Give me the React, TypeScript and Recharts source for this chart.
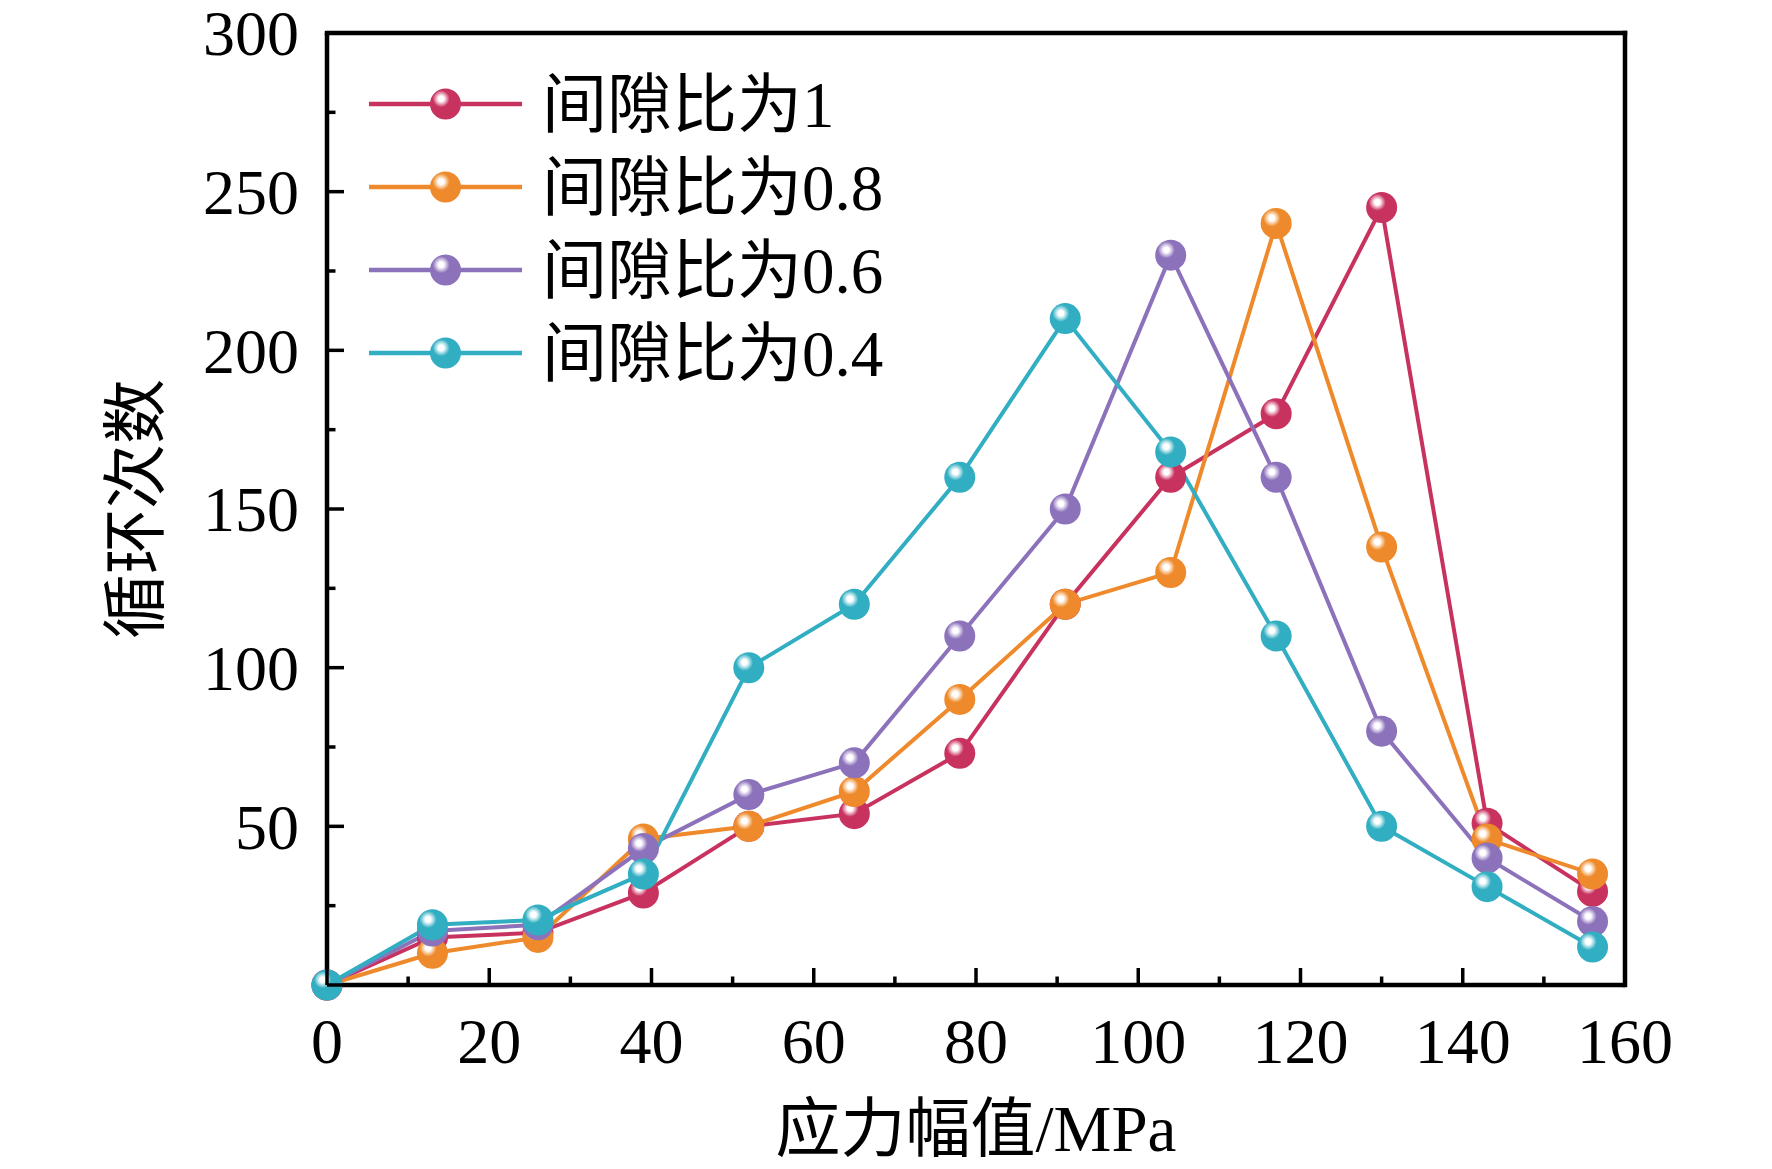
import React from 'react';
import { LineChart, Line, XAxis, YAxis, ReferenceLine, Legend, Label } from 'recharts';

const stressX = [0, 13, 26, 39, 52, 65, 78, 91, 104, 117, 130, 143, 156];
const ratio1 = [0, 15, 16.5, 29, 50, 54, 73, 120, 160, 180, 245, 51, 29.5];
const ratio08 = [0, 10, 15, 46, 50, 61, 90, 120, 130, 240, 138, 46, 35];
const ratio06 = [0, 17, 19, 43, 60, 70, 110, 150, 230, 160, 80, 40, 20];
const ratio04 = [0, 19, 20.5, 35, 100, 120, 160, 210, 168, 110, 50, 31, 12];

const xTicks = [0, 10, 20, 30, 40, 50, 60, 70, 80, 90, 100, 110, 120, 130, 140, 150, 160];
const yTicks = [0, 25, 50, 75, 100, 125, 150, 175, 200, 225, 250, 275, 300];

const seriesNames = ['间隙比为1', '间隙比为0.8', '间隙比为0.6', '间隙比为0.4'];
const seriesKeys = ['r1', 'r08', 'r06', 'r04'];
const seriesColors = ['#C8325F', '#EE8A2B', '#8C72BA', '#32AEC2'];
const seriesLight = ['#E9A3B8', '#F8CB9E', '#CDBFE2', '#A4DCE5'];
const seriesValues = [ratio1, ratio08, ratio06, ratio04];

const xTitle = '应力幅值/MPa';
const yTitle = '循环次数';

const data = stressX.map((x, i) => {
  const row: Record<string, number> = { x };
  seriesKeys.forEach((k, s) => {
    row[k] = seriesValues[s][i];
  });
  return row;
});

const FONT = "'Liberation Serif', 'Times New Roman', 'Noto Sans CJK SC', serif";
const AXIS_W = 4.5;

const XTick = (props: any) => {
  const { x, y, payload } = props;
  const major = payload.value % 20 === 0;
  return (
    <g>
      <line x1={x} x2={x} y1={y} y2={y - (major ? 17 : 8.5)} stroke="#000" strokeWidth={3.5} />
      {major && (
        <text x={x} y={y + 78} textAnchor="middle" fontFamily={FONT} fontSize={64} fill="#000">
          {payload.value}
        </text>
      )}
    </g>
  );
};

const YTick = (props: any) => {
  const { x, y, payload } = props;
  const major = payload.value % 50 === 0;
  return (
    <g>
      <line x1={x} x2={x + (major ? 17 : 8.5)} y1={y} y2={y} stroke="#000" strokeWidth={3.5} />
      {major && payload.value !== 0 && (
        <text x={x - 28} y={y} dy="0.35em" textAnchor="end" fontFamily={FONT} fontSize={64} fill="#000">
          {payload.value}
        </text>
      )}
    </g>
  );
};

const Ball = (props: any) => {
  const { cx, cy, index, sidx } = props;
  if (cx == null || cy == null) return null;
  return <circle key={`d-${sidx}-${index}`} cx={cx} cy={cy} r={15.5} fill={`url(#ball-${sidx})`} />;
};

const LegendContent = () => (
  <svg width={620} height={340} style={{ display: 'block', overflow: 'visible' }}>
    {seriesNames.map((n, i) => {
      const cy = 42 + i * 83;
      return (
        <g key={n}>
          <line x1={9} x2={162} y1={cy} y2={cy} stroke={seriesColors[i]} strokeWidth={4.5} />
          <circle cx={85.5} cy={cy} r={15.5} fill={`url(#ball-${i})`} />
          <text x={182} y={cy + 23} fontFamily={FONT} fontSize={65} fill="#000">
            {n}
          </text>
        </g>
      );
    })}
  </svg>
);

export default function App() {
  return (
    <div style={{ position: 'absolute', left: 0, top: 0, width: 1772, height: 1169, background: '#fff' }}>
      <svg width={0} height={0} style={{ position: 'absolute' }}>
        <defs>
          {seriesColors.map((c, i) => (
            <radialGradient key={c} id={`ball-${i}`} cx="0.36" cy="0.33" r="0.72" fx="0.36" fy="0.33">
              <stop offset="0" stopColor="#ffffff" />
              <stop offset="0.12" stopColor="#ffffff" />
              <stop offset="0.24" stopColor={seriesLight[i]} />
              <stop offset="0.38" stopColor={c} />
              <stop offset="1" stopColor={c} />
            </radialGradient>
          ))}
        </defs>
      </svg>
      <LineChart
        width={1772}
        height={1169}
        data={data}
        margin={{ top: 33, right: 147, bottom: 0, left: 0 }}
      >
        <XAxis
          dataKey="x"
          type="number"
          domain={[0, 160]}
          ticks={xTicks}
          interval={0}
          height={184}
          tickSize={0}
          tickMargin={0}
          tickLine={false}
          tick={<XTick />}
          axisLine={{ stroke: '#000', strokeWidth: AXIS_W }}
        >
          <Label
            content={(p: any) => {
              const vb = p.viewBox || { x: 327, y: 985, width: 1298, height: 184 };
              return (
                <text x={vb.x + vb.width / 2} y={vb.y + 166} textAnchor="middle" fontFamily={FONT} fontSize={65} fill="#000">
                  {xTitle}
                </text>
              );
            }}
          />
        </XAxis>
        <YAxis
          type="number"
          domain={[0, 300]}
          ticks={yTicks}
          interval={0}
          width={327}
          tickSize={0}
          tickMargin={0}
          tickLine={false}
          tick={<YTick />}
          axisLine={{ stroke: '#000', strokeWidth: AXIS_W }}
        >
          <Label
            content={(p: any) => {
              const vb = p.viewBox || { x: 0, y: 33, width: 327, height: 952 };
              const cx = 158;
              const cy = vb.y + vb.height / 2;
              return (
                <text x={cx} y={cy} transform={`rotate(-90, ${cx}, ${cy})`} textAnchor="middle" fontFamily={FONT} fontSize={65} fill="#000">
                  {yTitle}
                </text>
              );
            }}
          />
        </YAxis>
        <ReferenceLine y={300} stroke="#000" strokeWidth={AXIS_W} strokeLinecap="square" />
        <ReferenceLine x={160} stroke="#000" strokeWidth={AXIS_W} strokeLinecap="square" />
        {seriesKeys.map((k, i) => (
          <Line
            key={k}
            dataKey={k}
            name={seriesNames[i]}
            type="linear"
            stroke={seriesColors[i]}
            strokeWidth={4}
            isAnimationActive={false}
            dot={(p: any) => <Ball {...p} sidx={i} key={`d-${i}-${p.index}`} />}
            activeDot={false}
          />
        ))}
        <Legend
          layout="vertical"
          align="center"
          verticalAlign="middle"
          content={() => <LegendContent />}
          wrapperStyle={{ position: 'absolute', left: 360, top: 62, width: 620, height: 340 }}
        />
      </LineChart>
    </div>
  );
}
